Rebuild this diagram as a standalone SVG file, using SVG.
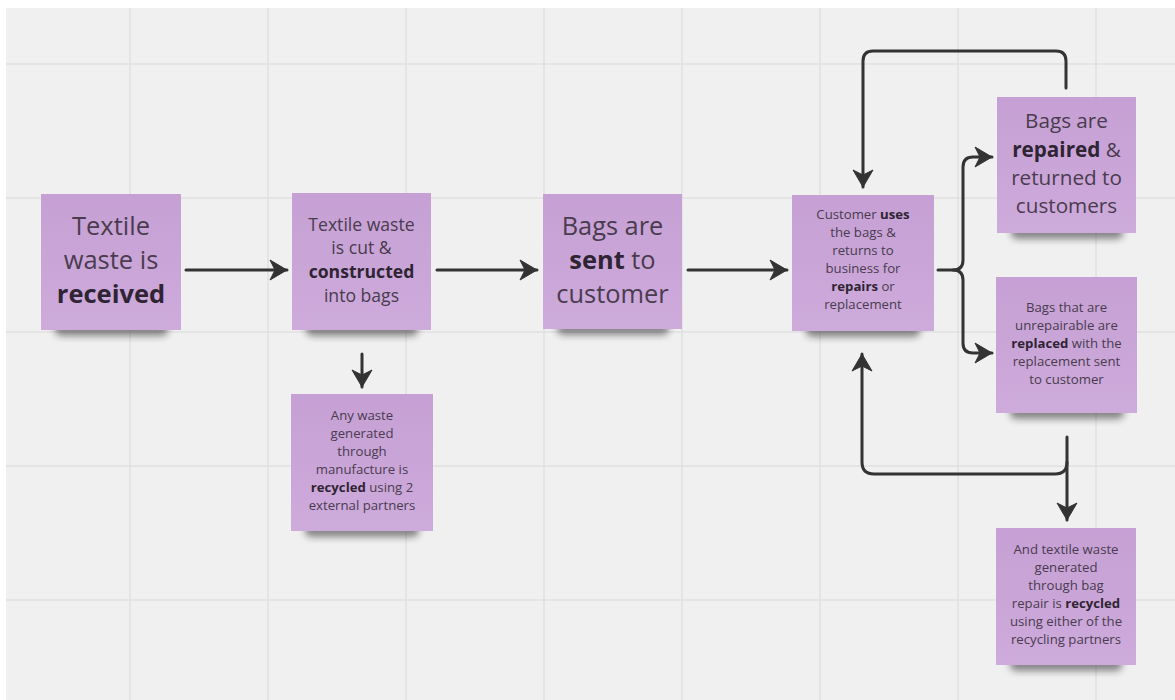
<svg xmlns="http://www.w3.org/2000/svg" width="1175" height="700" viewBox="0 0 1175 700">
  <defs>
    <style>
      .grid { stroke: #e1e1e1; stroke-width: 1.5; }
      .note { fill: url(#noteFill); }
      .shadow { fill: #1a1a1a; opacity: 0.5; filter: url(#soft); }
      .t { font-family: "Open Sans", "Noto Sans", "Liberation Sans", sans-serif; fill: #4a3b4f; text-anchor: middle; }
      .b { font-weight: 700; fill: #2f2433; }
      .link { fill: none; stroke: #333333; stroke-width: 3; stroke-linecap: round; stroke-linejoin: round; }
      .head { marker-end: url(#arrow); }
    </style>
    <linearGradient id="noteFill" x1="0" y1="0" x2="0" y2="1">
      <stop offset="0" stop-color="#c6a0d4"/>
      <stop offset="1" stop-color="#cdabdb"/>
    </linearGradient>
    <filter id="soft" x="-20%" y="-100%" width="140%" height="300%">
      <feGaussianBlur stdDeviation="3.5"/>
    </filter>
    <marker id="arrow" markerUnits="userSpaceOnUse" markerWidth="24" markerHeight="24" viewBox="-20 -12 24 24" refX="0" refY="0" orient="auto">
      <path d="M0,0 L-17,-10 L-12,0 L-17,10 Z" fill="#333333" stroke="#333333" stroke-width="1" stroke-linejoin="round"/>
    </marker>
  </defs>

  <!-- canvas -->
  <rect x="0" y="0" width="1175" height="700" fill="#ffffff"/>
  <rect x="6" y="8" width="1169" height="692" fill="#f0f0f0"/>

  <!-- board grid -->
  <g id="grid" class="grid">
    <line x1="6" y1="64" x2="1175" y2="64"/>
    <line x1="6" y1="198" x2="1175" y2="198"/>
    <line x1="6" y1="332" x2="1175" y2="332"/>
    <line x1="6" y1="466" x2="1175" y2="466"/>
    <line x1="6" y1="600" x2="1175" y2="600"/>
    <line x1="130" y1="8" x2="130" y2="700"/>
    <line x1="268" y1="8" x2="268" y2="700"/>
    <line x1="406" y1="8" x2="406" y2="700"/>
    <line x1="544" y1="8" x2="544" y2="700"/>
    <line x1="682" y1="8" x2="682" y2="700"/>
    <line x1="820" y1="8" x2="820" y2="700"/>
    <line x1="958" y1="8" x2="958" y2="700"/>
    <line x1="1096" y1="8" x2="1096" y2="700"/>
  </g>

  <!-- connectors -->
  <g id="connectors">
    <path class="link head" d="M186,270 H287"/>
    <path class="link head" d="M437,270 H537"/>
    <path class="link head" d="M688,270 H787"/>
    <path class="link head" d="M362,354 V387"/>
    <!-- split from the customer note -->
    <path class="link head" d="M938,270 H953 Q963,270 963,260 V167 Q963,157 973,157 H992"/>
    <path class="link head" d="M953,270 Q963,270 963,280 V343 Q963,353 973,353 H992"/>
    <!-- repaired bags loop back -->
    <path class="link head" d="M1066,88 V61 Q1066,51 1056,51 H873 Q863,51 863,61 V187"/>
    <!-- replaced bags loop back and waste branch -->
    <path class="link head" d="M1067,437 V520"/>
    <path class="link head" d="M1067,462 Q1067,474 1055,474 H874 Q862,474 862,462 V354"/>
  </g>

  <!-- notes -->
  <g id="received">
    <rect class="shadow" x="55" y="320" width="113" height="16" rx="6"/>
    <rect class="note" x="41" y="194" width="140" height="136"/>
    <text class="t" font-size="25.5"><tspan x="111" y="235">Textile</tspan><tspan x="111" y="269">waste is</tspan><tspan x="111" y="303" class="b">received</tspan></text>
  </g>

  <g id="constructed">
    <rect class="shadow" x="306" y="320" width="112" height="16" rx="6"/>
    <rect class="note" x="292" y="193" width="139" height="137"/>
    <text class="t" font-size="17.6"><tspan x="361.5" y="231">Textile waste</tspan><tspan x="361.5" y="254">is cut &amp;</tspan><tspan x="361.5" y="278" class="b">constructed</tspan><tspan x="361.5" y="302">into bags</tspan></text>
  </g>

  <g id="sent">
    <rect class="shadow" x="557" y="319" width="112" height="16" rx="6"/>
    <rect class="note" x="543" y="194" width="139" height="135"/>
    <text class="t" font-size="25.4"><tspan x="612.5" y="235">Bags are</tspan><tspan x="612.5" y="269"><tspan class="b">sent</tspan> to</tspan><tspan x="612.5" y="303">customer</tspan></text>
  </g>

  <g id="uses">
    <rect class="shadow" x="806" y="321" width="114" height="16" rx="6"/>
    <rect class="note" x="792" y="195" width="142" height="136"/>
    <text class="t" font-size="13.2"><tspan x="863" y="219">Customer <tspan class="b">uses</tspan></tspan><tspan x="863" y="237">the bags &amp;</tspan><tspan x="863" y="255">returns to</tspan><tspan x="863" y="273">business for</tspan><tspan x="863" y="291"><tspan class="b">repairs</tspan> or</tspan><tspan x="863" y="309">replacement</tspan></text>
  </g>

  <g id="repaired">
    <rect class="shadow" x="1011" y="223" width="112" height="16" rx="6"/>
    <rect class="note" x="997" y="97" width="139" height="136"/>
    <text class="t" font-size="20.7"><tspan x="1066.5" y="128">Bags are</tspan><tspan x="1066.5" y="157"><tspan class="b">repaired</tspan> &amp;</tspan><tspan x="1066.5" y="185">returned to</tspan><tspan x="1066.5" y="213">customers</tspan></text>
  </g>

  <g id="replaced">
    <rect class="shadow" x="1010" y="403" width="114" height="16" rx="6"/>
    <rect class="note" x="996" y="277" width="141" height="136"/>
    <text class="t" font-size="13.2"><tspan x="1066.5" y="312">Bags that are</tspan><tspan x="1066.5" y="330">unrepairable are</tspan><tspan x="1066.5" y="348"><tspan class="b">replaced</tspan> with the</tspan><tspan x="1066.5" y="366">replacement sent</tspan><tspan x="1066.5" y="384">to customer</tspan></text>
  </g>

  <g id="manufacture-waste">
    <rect class="shadow" x="305" y="521" width="114" height="16" rx="6"/>
    <rect class="note" x="291" y="394" width="142" height="137"/>
    <text class="t" font-size="13.2"><tspan x="362" y="420">Any waste</tspan><tspan x="362" y="438">generated</tspan><tspan x="362" y="456">through</tspan><tspan x="362" y="474">manufacture is</tspan><tspan x="362" y="492"><tspan class="b">recycled</tspan> using 2</tspan><tspan x="362" y="510">external partners</tspan></text>
  </g>

  <g id="repair-waste">
    <rect class="shadow" x="1010" y="655" width="112" height="16" rx="6"/>
    <rect class="note" x="996" y="528" width="140" height="137"/>
    <text class="t" font-size="13.2"><tspan x="1066" y="554">And textile waste</tspan><tspan x="1066" y="572">generated</tspan><tspan x="1066" y="590">through bag</tspan><tspan x="1066" y="608">repair is <tspan class="b">recycled</tspan></tspan><tspan x="1066" y="626">using either of the</tspan><tspan x="1066" y="644">recycling partners</tspan></text>
  </g>
</svg>
